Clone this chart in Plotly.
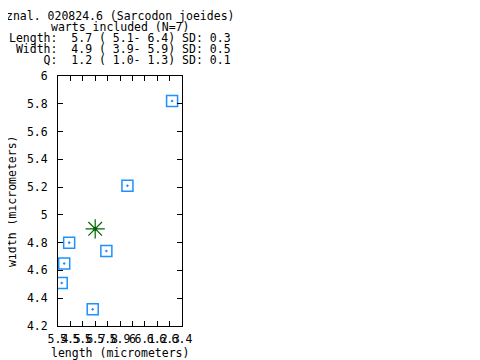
import plotly.graph_objects as go

# data
length = [6.32, 5.96, 5.49, 5.45, 5.43, 5.79, 5.68]
width = [5.82, 5.21, 4.80, 4.65, 4.51, 4.74, 4.32]
mean_length = [5.7]
mean_width = [4.9]
x_ticks = [5.4, 5.5, 5.6, 5.7, 5.8, 5.9, 6.0, 6.1, 6.2, 6.3, 6.4]
y_ticks = [4.2, 4.4, 4.6, 4.8, 5.0, 5.2, 5.4, 5.6, 5.8, 6.0]
header = [
    "znal. 020824.6 (Sarcodon joeides)",
    "warts included (N=7)",
    "Length:  5.7 ( 5.1- 6.4) SD: 0.3",
    " Width:  4.9 ( 3.9- 5.9) SD: 0.5",
    "     Q:  1.2 ( 1.0- 1.3) SD: 0.1",
]

FONT = "DejaVu Sans Mono"
FS = 11.5
OFF = 8  # page body margin
W, H = 472, 352
L, R, T, B = 58 - OFF, 182 - OFF, 76 - OFF, 326 - OFF

fig = go.Figure()
fig.add_trace(go.Scatter(
    x=length, y=width, mode="markers",
    marker=dict(symbol="square-open-dot", size=11, color="#1E90FF",
                line=dict(width=1.5, color="#1E90FF")),
    showlegend=False))
fig.add_trace(go.Scatter(
    x=mean_length, y=mean_width, mode="markers",
    marker=dict(symbol="asterisk-open", size=16, color="#006400",
                line=dict(width=1.2, color="#006400")),
    showlegend=False))
fig.add_trace(go.Scatter(
    x=mean_length, y=mean_width, mode="markers",
    marker=dict(symbol="circle", size=4, color="#006400"),
    showlegend=False))

def fmt(v):
    s = ("%.1f" % v)
    if s.endswith(".0"):
        s = s[:-2]
    return s

axis_common = dict(showgrid=False, zeroline=False, showline=True, mirror="ticks",
                   linecolor="black", linewidth=1, ticks="inside", ticklen=5,
                   tickcolor="black", tickfont=dict(family=FONT, size=FS, color="black"))

fig.update_xaxes(range=[5.4, 6.4], tickvals=x_ticks, ticktext=[fmt(v) for v in x_ticks],
                 tickangle=0, ticklabelstandoff=2, **axis_common)
fig.update_yaxes(range=[4.2, 6.0], tickvals=y_ticks, ticktext=[fmt(v) for v in y_ticks],
                 ticklabelstandoff=7, **axis_common)

def px_x(xp):
    return (xp - OFF - L) / (R - L)

def px_y(yp):
    return (B - (yp - OFF)) / (B - T)

line_y = [15.5, 26.5, 37.5, 49, 60]
for txt, yp in zip(header, line_y):
    fig.add_annotation(text=txt.replace(" ", "\u00a0"), xref="paper", yref="paper",
                       x=px_x(120), y=px_y(yp),
                       xanchor="center", yanchor="middle", showarrow=False,
                       font=dict(family=FONT, size=FS, color="black"))

fig.add_annotation(text="length\u00a0(micrometers)", xref="paper", yref="paper",
                   x=px_x(120), y=px_y(353), xanchor="center", yanchor="middle",
                   showarrow=False, font=dict(family=FONT, size=FS, color="black"))
fig.add_annotation(text="width\u00a0(micrometers)", xref="paper", yref="paper",
                   x=px_x(12), y=px_y(201), xanchor="center", yanchor="middle",
                   textangle=-90, showarrow=False,
                   font=dict(family=FONT, size=FS, color="black"))

fig.update_layout(width=W, height=H, margin=dict(l=L, r=W - R, t=T, b=H - B, autoexpand=False),
                  plot_bgcolor="white", paper_bgcolor="white")

fig.write_html("out.html")
